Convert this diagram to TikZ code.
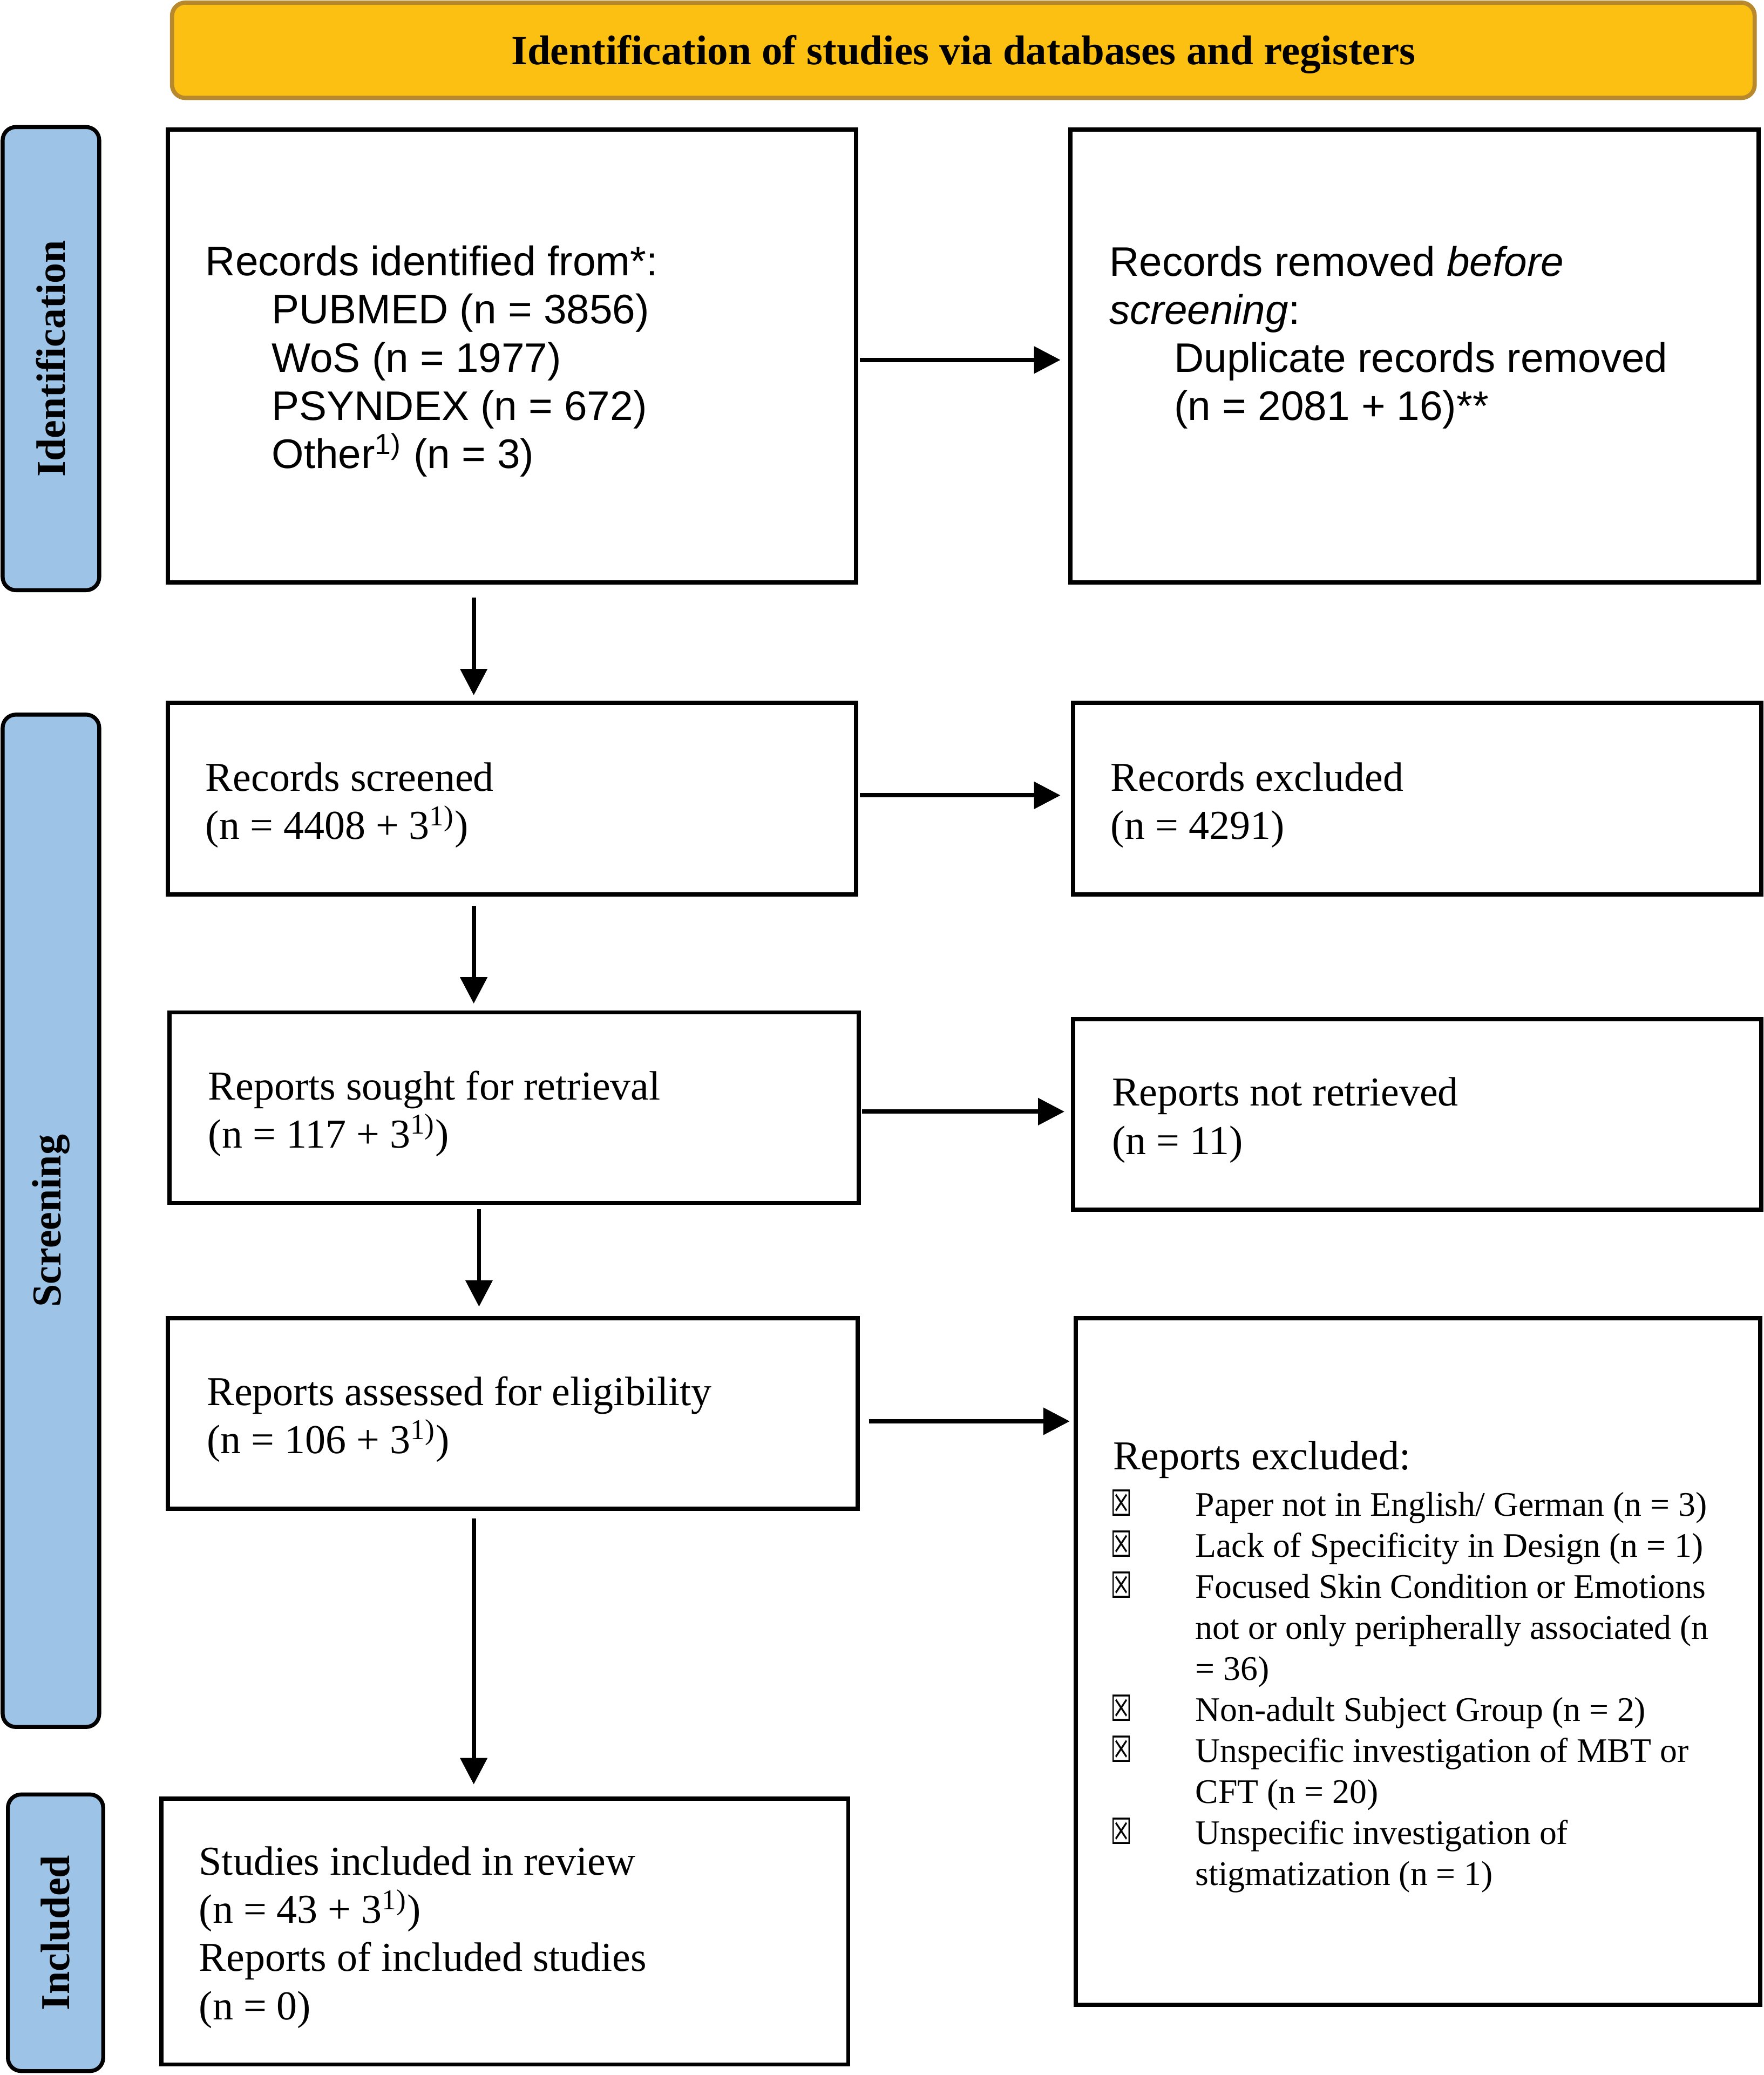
\documentclass[tikz,border=0pt]{standalone}
\usepackage{fontspec}
\usepackage{graphicx}
\setmainfont{Liberation Serif}
\newfontfamily\arialf{Liberation Sans}
\newfontfamily\symf{DejaVu Sans}
\usetikzlibrary{arrows.meta}
\definecolor{hdrfill}{HTML}{FCC012}
\definecolor{hdrline}{HTML}{B8892C}
\definecolor{barfill}{HTML}{9DC3E6}
\newcommand{\xmk}{{\symf\fontsize{13}{15.5}\selectfont\scalebox{0.7}[1.05]{☒}}}
\newcommand{\itm}[1]{\makebox[31pt][l]{\hspace*{-1pt}\xmk}#1}
\newcommand{\cnt}[1]{\hspace*{31pt}#1}
\tikzset{
  pbox/.style 2 args={draw, line width=1.6pt, minimum width={#1*0.5pt}, minimum height={#2*0.5pt}, inner sep=0pt},
  sidebar/.style 2 args={draw, line width=1.5pt, fill=barfill, rounded corners=5pt, minimum width={#1*0.5pt}, minimum height={#2*0.5pt}, inner sep=0pt},
  hdr/.style={draw=hdrline, line width=1.6pt, fill=hdrfill, rounded corners=5pt, minimum width=598pt, minimum height=36pt, inner sep=0pt},
  hdrtxt/.style={inner sep=0pt, font=\bfseries\fontsize{15.7}{18}\selectfont},
  sidelabel/.style={rotate=90, inner sep=0pt, font=\bfseries\fontsize{15.5}{18}\selectfont},
  txt/.style={inner sep=0pt, anchor=west, align=left, font=\fontsize{15.5}{18.2}\selectfont},
  stxt/.style={inner sep=0pt, anchor=west, align=left, font=\arialf\fontsize{15.6}{18.2}\selectfont},
  ltxt/.style={inner sep=0pt, anchor=west, align=left, font=\fontsize{13}{15.5}\selectfont},
  arr/.style={line width=1.6pt, -{Triangle[length=10pt,width=10pt]}}
}
\begin{document}
\begin{tikzpicture}[x=0.5pt, y=-0.5pt]
\useasboundingbox (0,0) rectangle (1333,1568);

% header
\node[hdr] (hd) at (728,38) {};
\node[hdrtxt] (hdt) at (728,41) {Identification of studies via databases and registers};

% side bars
\node[sidebar={73}{350}] (sbI) at (38.5,271) {};
\node[sidelabel] (lI) at (sbI.center) {Identification};
\node[sidebar={73}{765}] (sbS) at (38.5,922.5) {};
\node[sidelabel] (lS) at (sbS.center) {Screening};
\node[sidebar={72}{209}] (sbN) at (42,1460.5) {};
\node[sidelabel] (lN) at (sbN.center) {Included};

% boxes
\node[pbox={520}{342}] (b1) at (387,269) {};
\node[pbox={520}{342}] (b2) at (1069,269) {};
\node[pbox={520}{145}] (b3) at (387,603.5) {};
\node[pbox={520}{145}] (b4) at (1071,603.5) {};
\node[pbox={521}{144}] (b5) at (388.5,837) {};
\node[pbox={520}{144}] (b6) at (1071,842) {};
\node[pbox={521}{144}] (b7) at (387.5,1068) {};
\node[pbox={517}{519}] (b8) at (1071.5,1255.5) {};
\node[pbox={519}{201}] (b9) at (381.5,1459.5) {};

% texts
\node[stxt] (t1) at (155,273) {Records identified from*:\\
\hspace*{25pt}PUBMED (n = 3856)\\
\hspace*{25pt}WoS (n = 1977)\\
\hspace*{25pt}PSYNDEX (n = 672)\\
\hspace*{25pt}Other\textsuperscript{1)} (n = 3)};
\node[stxt] (t2) at (838,255) {Records removed \textit{before}\\
\textit{screening}:\\
\hspace*{24.5pt}Duplicate records removed\\
\hspace*{24.5pt}(n = 2081 + 16)**};
\node[txt] (t3) at (155,608.5) {Records screened\\(n = 4408 + 3\textsuperscript{1)})};
\node[txt] (t4) at (839,608.5) {Records excluded\\(n = 4291)};
\node[txt] (t5) at (157,841.5) {Reports sought for retrieval\\(n = 117 + 3\textsuperscript{1)})};
\node[txt] (t6) at (840,846.5) {Reports not retrieved\\(n = 11)};
\node[txt] (t7) at (156,1072.5) {Reports assessed for eligibility\\(n = 106 + 3\textsuperscript{1)})};
\node[txt] (t8) at (841,1103) {Reports excluded:};
\node[ltxt] (t8l) at (841,1278) {\itm{Paper not in English/ German (n = 3)}\\
\itm{Lack of Specificity in Design (n = 1)}\\
\itm{Focused Skin Condition or Emotions}\\
\cnt{not or only peripherally associated (n}\\
\cnt{= 36)}\\
\itm{Non-adult Subject Group (n = 2)}\\
\itm{Unspecific investigation of MBT or}\\
\cnt{CFT (n = 20)}\\
\itm{Unspecific investigation of}\\
\cnt{stigmatization (n = 1)}};
\node[txt] (t9) at (150,1464) {Studies included in review\\(n = 43 + 3\textsuperscript{1)})\\Reports of included studies\\(n = 0)};

% connectors
\coordinate (ax1) at (358,0);
\coordinate (ax2) at (362,0);
\coordinate (ay1) at (0,272);
\coordinate (ay2) at (0,601);
\coordinate (ay3) at (0,840);
\coordinate (ay4) at (0,1074);
\draw[arr, shorten <=5pt, shorten >=2pt] (b1.south -| ax1) -- (b3.north -| ax1);
\draw[arr, shorten <=0.5pt, shorten >=3pt] (b1.east |- ay1) -- (b2.west |- ay1);
\draw[arr, shorten <=0.5pt, shorten >=4pt] (b3.east |- ay2) -- (b4.west |- ay2);
\draw[arr, shorten <=3.5pt, shorten >=2.5pt] (b3.south -| ax1) -- (b5.north -| ax1);
\draw[arr, shorten <=0.5pt, shorten >=2.5pt] (b5.east |- ay3) -- (b6.west |- ay3);
\draw[arr, shorten <=1.5pt, shorten >=3.5pt] (b5.south -| ax2) -- (b7.north -| ax2);
\draw[arr, shorten <=3.5pt, shorten >=1.5pt] (b7.east |- ay4) -- (b8.west |- ay4);
\draw[arr, shorten <=3pt, shorten >=4.5pt] (b7.south -| ax1) -- (b9.north -| ax1);
\end{tikzpicture}
\end{document}
